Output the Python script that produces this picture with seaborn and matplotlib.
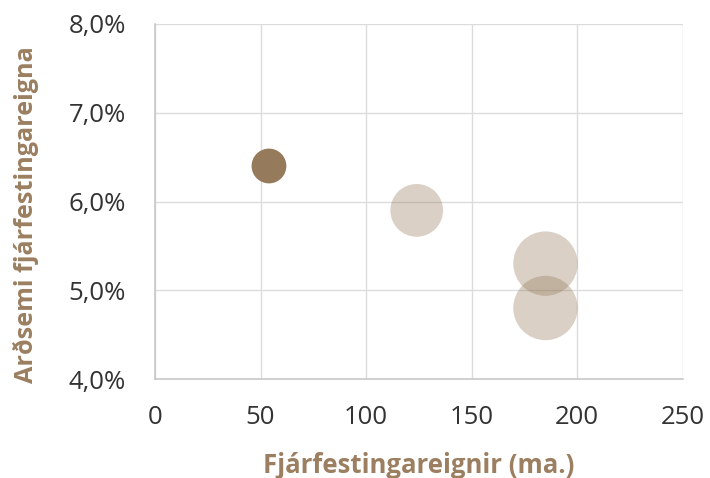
import matplotlib
matplotlib.use("Agg")
import matplotlib.pyplot as plt
from matplotlib.ticker import FuncFormatter
import seaborn as sns
import pandas as pd

# Investment property holdings: assets (bn ISK), return on assets (%), bubble size
assets = [54, 124, 185, 185]
returns = [6.4, 5.9, 5.3, 4.8]
bubble_size = [54, 124, 185, 185]
highlight = [True, False, False, False]

x_ticks = [0, 50, 100, 150, 200, 250]
y_ticks = [4.0, 5.0, 6.0, 7.0, 8.0]

x_label = "Fjárfestingareignir (ma.)"
y_label = "Arðsemi fjárfestingareigna"

brown = "#957A5B"
label_brown = "#9B7F60"
tick_color = "#333333"

df = pd.DataFrame({"assets": assets, "returns": returns,
                   "size": bubble_size, "highlight": highlight})

sns.set_theme(style="whitegrid")
plt.rcParams["font.family"] = ["Open Sans", "DejaVu Sans"]

fig = plt.figure(figsize=(7.1, 4.78), dpi=100)
ax = fig.add_axes([0.2183, 0.2071, 0.9615 - 0.2183, 0.9498 - 0.2071])

size_kw = dict(size="size", sizes=(0, 2150), size_norm=(0, 185), legend=False,
               linewidth=0, edgecolor="none", zorder=3)

# Background holdings, semi-transparent
sns.scatterplot(data=df[~df["highlight"]], x="assets", y="returns",
                color=brown, alpha=0.35, ax=ax, **size_kw)
# Highlighted holding, fully opaque
sns.scatterplot(data=df[df["highlight"]], x="assets", y="returns",
                color=brown, alpha=1.0, ax=ax, **size_kw)

ax.set_xlim(x_ticks[0], x_ticks[-1])
ax.set_ylim(y_ticks[0], y_ticks[-1])
ax.set_xticks(x_ticks)
ax.set_yticks(y_ticks)
ax.yaxis.set_major_formatter(FuncFormatter(lambda v, p: f"{v:.1f}".replace(".", ",") + "%"))

ax.set_facecolor("white")
ax.grid(True, color="#DCDCDC", linewidth=1.0)
ax.set_axisbelow(True)
for side in ["top", "right"]:
    ax.spines[side].set_visible(False)
for side in ["left", "bottom"]:
    ax.spines[side].set_visible(True)
    ax.spines[side].set_color("#C8C8C8")
    ax.spines[side].set_linewidth(1.2)

ax.tick_params(axis="both", length=0, labelsize=18.5, labelcolor=tick_color)
ax.tick_params(axis="y", pad=21)
ax.tick_params(axis="x", pad=19)

ax.set_xlabel(x_label, fontsize=18.5, fontweight="bold", color=label_brown, va="center")
ax.set_ylabel(y_label, fontsize=18.2, fontweight="bold", color=label_brown, va="center")
ax.xaxis.set_label_coords(0.5, (379 - 465) / 355)
ax.yaxis.set_label_coords((26 - 155) / 527.7, (379 - 215) / 355)

fig.savefig("out.png", dpi=100, facecolor="white")
